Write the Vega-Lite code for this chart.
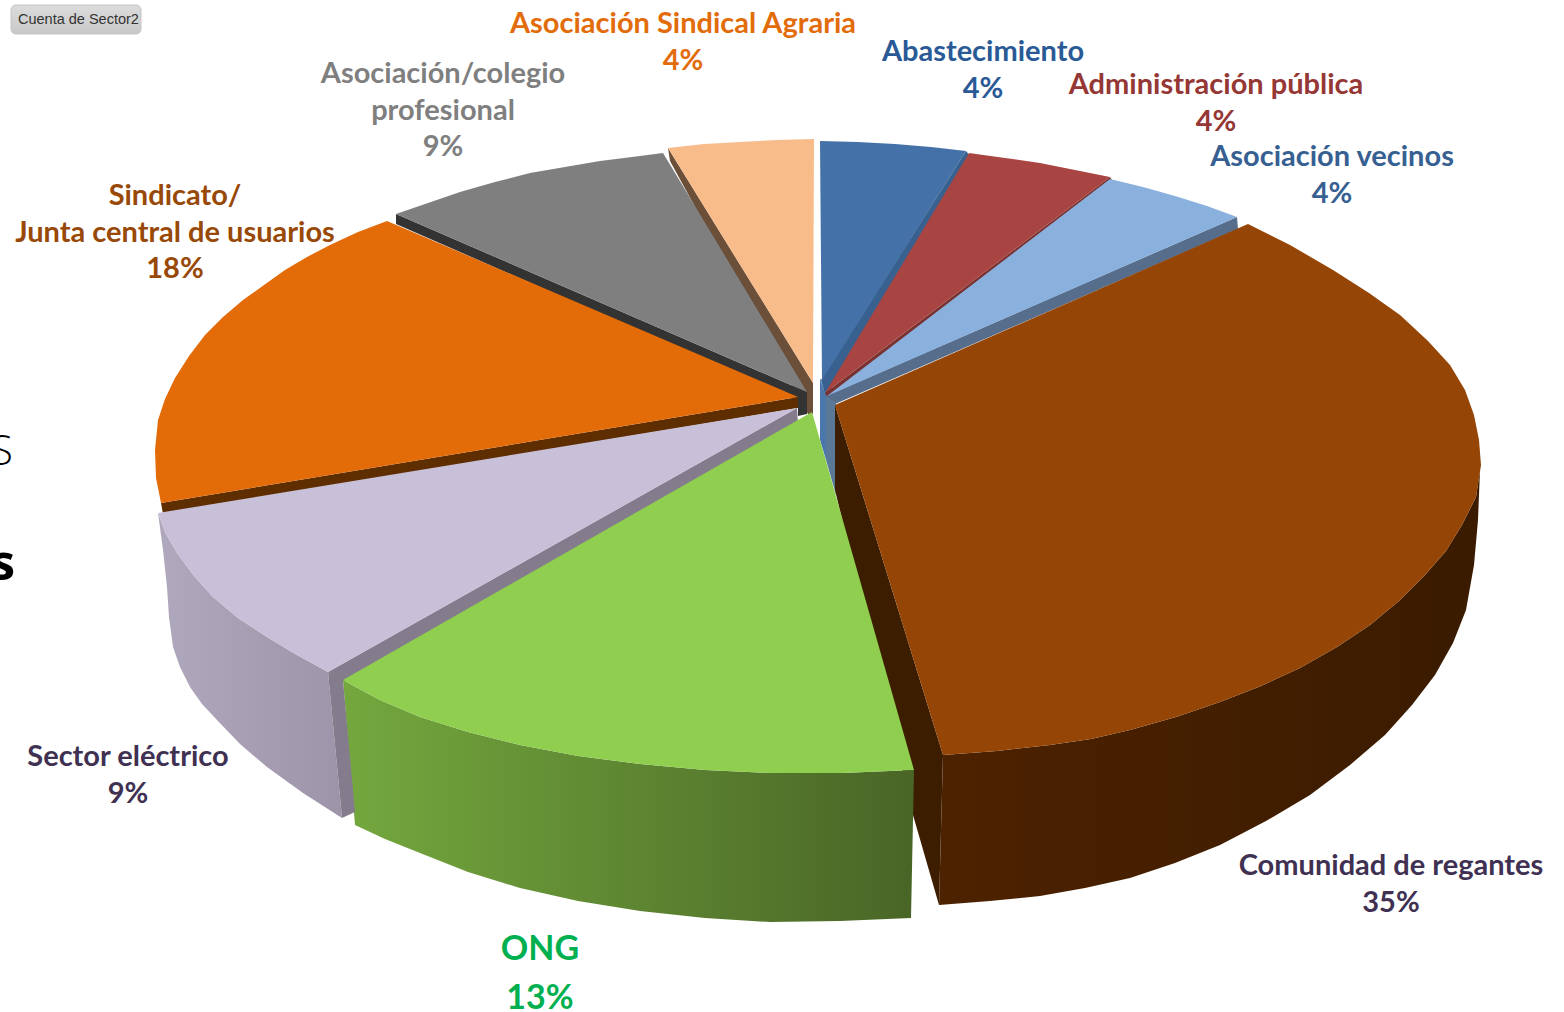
{"$schema":"https://vega.github.io/schema/vega-lite/v6.json","width":1564,"height":1012,"padding":0,"autosize":"none","background":"white","view":{"stroke":null},
"datasets":{"faces":[
{"z":"back","face":"wall_abast","i":0,"x":966,"y":151},{"z":"back","face":"wall_abast","i":1,"x":970,"y":156},{"z":"back","face":"wall_abast","i":2,"x":826,"y":398},{"z":"back","face":"wall_abast","i":3,"x":821,"y":380},
{"z":"back","face":"wall_red","i":0,"x":1110,"y":177},{"z":"back","face":"wall_red","i":1,"x":1112,"y":180},{"z":"back","face":"wall_red","i":2,"x":827,"y":398},{"z":"back","face":"wall_red","i":3,"x":825,"y":393},
{"z":"back","face":"wall_vec","i":0,"x":1237,"y":217},{"z":"back","face":"wall_vec","i":1,"x":1238,"y":229},{"z":"back","face":"wall_vec","i":2,"x":835,"y":404},{"z":"back","face":"wall_vec","i":3,"x":826,"y":396},
{"z":"back","face":"band_vec","i":0,"x":826,"y":396},{"z":"back","face":"band_vec","i":1,"x":836,"y":403},{"z":"back","face":"band_vec","i":2,"x":836,"y":495},{"z":"back","face":"band_vec","i":3,"x":826,"y":460},
{"z":"back","face":"band_abast","i":0,"x":820,"y":378},{"z":"back","face":"band_abast","i":1,"x":826,"y":396},{"z":"back","face":"band_abast","i":2,"x":826,"y":460},{"z":"back","face":"band_abast","i":3,"x":820,"y":440},
{"z":"back","face":"wall_peach","i":0,"x":668,"y":148},{"z":"back","face":"wall_peach","i":1,"x":670,"y":161},{"z":"back","face":"wall_peach","i":2,"x":808,"y":414},{"z":"back","face":"wall_peach","i":3,"x":813,"y":414},{"z":"back","face":"wall_peach","i":4,"x":813,"y":383},
{"z":"back","face":"wall_grey","i":0,"x":396,"y":214},{"z":"back","face":"wall_grey","i":1,"x":396,"y":224},{"z":"back","face":"wall_grey","i":2,"x":798,"y":400},{"z":"back","face":"wall_grey","i":3,"x":798,"y":416},{"z":"back","face":"wall_grey","i":4,"x":807,"y":414},{"z":"back","face":"wall_grey","i":5,"x":807,"y":392},
{"z":"back","face":"wall_orange","i":0,"x":161,"y":503},{"z":"back","face":"wall_orange","i":1,"x":798,"y":397},{"z":"back","face":"wall_orange","i":2,"x":798,"y":408},{"z":"back","face":"wall_orange","i":3,"x":163,"y":514},
{"z":"back","face":"wall_lilac","i":0,"x":328,"y":672},{"z":"back","face":"wall_lilac","i":1,"x":797,"y":408},{"z":"back","face":"wall_lilac","i":2,"x":798,"y":424},{"z":"back","face":"wall_lilac","i":3,"x":343,"y":682},
{"z":"back","face":"wall_brown","i":0,"x":835,"y":405},{"z":"back","face":"wall_brown","i":1,"x":943,"y":755},{"z":"back","face":"wall_brown","i":2,"x":939,"y":905},{"z":"back","face":"wall_brown","i":3,"x":913,"y":815},{"z":"back","face":"wall_brown","i":4,"x":835,"y":490},

{"z":"side","face":"side_brown","i":0,"x":943,"y":755},{"z":"side","face":"side_brown","i":1,"x":997,"y":751},{"z":"side","face":"side_brown","i":2,"x":1050,"y":745},{"z":"side","face":"side_brown","i":3,"x":1091,"y":739},{"z":"side","face":"side_brown","i":4,"x":1130,"y":730},{"z":"side","face":"side_brown","i":5,"x":1176,"y":717},{"z":"side","face":"side_brown","i":6,"x":1220,"y":702},{"z":"side","face":"side_brown","i":7,"x":1261,"y":686},{"z":"side","face":"side_brown","i":8,"x":1300,"y":668},{"z":"side","face":"side_brown","i":9,"x":1337,"y":647},{"z":"side","face":"side_brown","i":10,"x":1370,"y":625},{"z":"side","face":"side_brown","i":11,"x":1399,"y":601},{"z":"side","face":"side_brown","i":12,"x":1425,"y":575},{"z":"side","face":"side_brown","i":13,"x":1446,"y":551},{"z":"side","face":"side_brown","i":14,"x":1462,"y":525},{"z":"side","face":"side_brown","i":15,"x":1476,"y":497},{"z":"side","face":"side_brown","i":16,"x":1480,"y":470},{"z":"side","face":"side_brown","i":17,"x":1478,"y":520},{"z":"side","face":"side_brown","i":18,"x":1474,"y":565},{"z":"side","face":"side_brown","i":19,"x":1466,"y":610},{"z":"side","face":"side_brown","i":20,"x":1453,"y":643},{"z":"side","face":"side_brown","i":21,"x":1435,"y":675},{"z":"side","face":"side_brown","i":22,"x":1412,"y":705},{"z":"side","face":"side_brown","i":23,"x":1385,"y":735},{"z":"side","face":"side_brown","i":24,"x":1350,"y":765},{"z":"side","face":"side_brown","i":25,"x":1310,"y":795},{"z":"side","face":"side_brown","i":26,"x":1266,"y":821},{"z":"side","face":"side_brown","i":27,"x":1220,"y":845},{"z":"side","face":"side_brown","i":28,"x":1175,"y":863},{"z":"side","face":"side_brown","i":29,"x":1130,"y":878},{"z":"side","face":"side_brown","i":30,"x":1085,"y":888},{"z":"side","face":"side_brown","i":31,"x":1040,"y":896},{"z":"side","face":"side_brown","i":32,"x":990,"y":901},{"z":"side","face":"side_brown","i":33,"x":939,"y":905},

{"z":"side","face":"side_lilac","i":0,"x":158,"y":513},{"z":"side","face":"side_lilac","i":1,"x":166,"y":534},{"z":"side","face":"side_lilac","i":2,"x":177,"y":553},{"z":"side","face":"side_lilac","i":3,"x":194,"y":576},{"z":"side","face":"side_lilac","i":4,"x":213,"y":597},{"z":"side","face":"side_lilac","i":5,"x":238,"y":618},{"z":"side","face":"side_lilac","i":6,"x":267,"y":637},{"z":"side","face":"side_lilac","i":7,"x":297,"y":655},{"z":"side","face":"side_lilac","i":8,"x":328,"y":672},{"z":"side","face":"side_lilac","i":9,"x":342,"y":818},{"z":"side","face":"side_lilac","i":10,"x":303,"y":793},{"z":"side","face":"side_lilac","i":11,"x":267,"y":767},{"z":"side","face":"side_lilac","i":12,"x":240,"y":744},{"z":"side","face":"side_lilac","i":13,"x":217,"y":720},{"z":"side","face":"side_lilac","i":14,"x":202,"y":704},{"z":"side","face":"side_lilac","i":15,"x":190,"y":687},{"z":"side","face":"side_lilac","i":16,"x":180,"y":667},{"z":"side","face":"side_lilac","i":17,"x":173,"y":647},{"z":"side","face":"side_lilac","i":18,"x":169,"y":617},{"z":"side","face":"side_lilac","i":19,"x":167,"y":587},{"z":"side","face":"side_lilac","i":20,"x":163,"y":550},

{"z":"side","face":"side_green","i":0,"x":343,"y":680},{"z":"side","face":"side_green","i":1,"x":380,"y":700},{"z":"side","face":"side_green","i":2,"x":420,"y":717},{"z":"side","face":"side_green","i":3,"x":468,"y":732},{"z":"side","face":"side_green","i":4,"x":520,"y":745},{"z":"side","face":"side_green","i":5,"x":578,"y":756},{"z":"side","face":"side_green","i":6,"x":640,"y":764},{"z":"side","face":"side_green","i":7,"x":705,"y":770},{"z":"side","face":"side_green","i":8,"x":770,"y":773},{"z":"side","face":"side_green","i":9,"x":842,"y":773},{"z":"side","face":"side_green","i":10,"x":914,"y":770},{"z":"side","face":"side_green","i":11,"x":911,"y":918},{"z":"side","face":"side_green","i":12,"x":840,"y":921},{"z":"side","face":"side_green","i":13,"x":770,"y":922},{"z":"side","face":"side_green","i":14,"x":705,"y":918},{"z":"side","face":"side_green","i":15,"x":640,"y":911},{"z":"side","face":"side_green","i":16,"x":578,"y":901},{"z":"side","face":"side_green","i":17,"x":520,"y":888},{"z":"side","face":"side_green","i":18,"x":468,"y":872},{"z":"side","face":"side_green","i":19,"x":420,"y":853},{"z":"side","face":"side_green","i":20,"x":385,"y":839},{"z":"side","face":"side_green","i":21,"x":355,"y":825},

{"z":"top","face":"front_lilac","i":0,"x":328,"y":672},{"z":"top","face":"front_lilac","i":1,"x":343,"y":680},{"z":"top","face":"front_lilac","i":2,"x":355,"y":812},{"z":"top","face":"front_lilac","i":3,"x":342,"y":818},

{"z":"top","face":"top_abast","i":0,"x":820,"y":141},{"z":"top","face":"top_abast","i":1,"x":858,"y":142},{"z":"top","face":"top_abast","i":2,"x":895,"y":144},{"z":"top","face":"top_abast","i":3,"x":931,"y":147},{"z":"top","face":"top_abast","i":4,"x":966,"y":151},{"z":"top","face":"top_abast","i":5,"x":822,"y":380},

{"z":"top","face":"top_red","i":0,"x":969,"y":153},{"z":"top","face":"top_red","i":1,"x":1005,"y":158},{"z":"top","face":"top_red","i":2,"x":1040,"y":163},{"z":"top","face":"top_red","i":3,"x":1075,"y":170},{"z":"top","face":"top_red","i":4,"x":1110,"y":177},{"z":"top","face":"top_red","i":5,"x":825,"y":393},

{"z":"top","face":"top_vec","i":0,"x":1110,"y":179},{"z":"top","face":"top_vec","i":1,"x":1143,"y":187},{"z":"top","face":"top_vec","i":2,"x":1175,"y":196},{"z":"top","face":"top_vec","i":3,"x":1207,"y":206},{"z":"top","face":"top_vec","i":4,"x":1237,"y":217},{"z":"top","face":"top_vec","i":5,"x":827,"y":396},

{"z":"top","face":"top_peach","i":0,"x":668,"y":148},{"z":"top","face":"top_peach","i":1,"x":704,"y":144},{"z":"top","face":"top_peach","i":2,"x":740,"y":142},{"z":"top","face":"top_peach","i":3,"x":777,"y":140},{"z":"top","face":"top_peach","i":4,"x":814,"y":139},{"z":"top","face":"top_peach","i":5,"x":813,"y":383},

{"z":"top","face":"top_grey","i":0,"x":396,"y":214},{"z":"top","face":"top_grey","i":1,"x":428,"y":203},{"z":"top","face":"top_grey","i":2,"x":460,"y":192},{"z":"top","face":"top_grey","i":3,"x":495,"y":182},{"z":"top","face":"top_grey","i":4,"x":530,"y":173},{"z":"top","face":"top_grey","i":5,"x":565,"y":167},{"z":"top","face":"top_grey","i":6,"x":600,"y":161},{"z":"top","face":"top_grey","i":7,"x":632,"y":157},{"z":"top","face":"top_grey","i":8,"x":663,"y":153},{"z":"top","face":"top_grey","i":9,"x":807,"y":392},

{"z":"top","face":"top_orange","i":0,"x":387,"y":221},{"z":"top","face":"top_orange","i":1,"x":358,"y":232},{"z":"top","face":"top_orange","i":2,"x":330,"y":245},{"z":"top","face":"top_orange","i":3,"x":307,"y":257},{"z":"top","face":"top_orange","i":4,"x":285,"y":270},{"z":"top","face":"top_orange","i":5,"x":264,"y":285},{"z":"top","face":"top_orange","i":6,"x":243,"y":300},{"z":"top","face":"top_orange","i":7,"x":223,"y":317},{"z":"top","face":"top_orange","i":8,"x":205,"y":335},{"z":"top","face":"top_orange","i":9,"x":189,"y":356},{"z":"top","face":"top_orange","i":10,"x":175,"y":378},{"z":"top","face":"top_orange","i":11,"x":165,"y":399},{"z":"top","face":"top_orange","i":12,"x":158,"y":420},{"z":"top","face":"top_orange","i":13,"x":155,"y":450},{"z":"top","face":"top_orange","i":14,"x":156,"y":478},{"z":"top","face":"top_orange","i":15,"x":161,"y":503},{"z":"top","face":"top_orange","i":16,"x":798,"y":397},

{"z":"top","face":"top_lilac","i":0,"x":158,"y":513},{"z":"top","face":"top_lilac","i":1,"x":166,"y":534},{"z":"top","face":"top_lilac","i":2,"x":177,"y":553},{"z":"top","face":"top_lilac","i":3,"x":194,"y":576},{"z":"top","face":"top_lilac","i":4,"x":213,"y":597},{"z":"top","face":"top_lilac","i":5,"x":238,"y":618},{"z":"top","face":"top_lilac","i":6,"x":267,"y":637},{"z":"top","face":"top_lilac","i":7,"x":297,"y":655},{"z":"top","face":"top_lilac","i":8,"x":328,"y":672},{"z":"top","face":"top_lilac","i":9,"x":797,"y":408},

{"z":"top","face":"top_green","i":0,"x":812,"y":412},{"z":"top","face":"top_green","i":1,"x":343,"y":680},{"z":"top","face":"top_green","i":2,"x":380,"y":700},{"z":"top","face":"top_green","i":3,"x":420,"y":717},{"z":"top","face":"top_green","i":4,"x":468,"y":732},{"z":"top","face":"top_green","i":5,"x":520,"y":745},{"z":"top","face":"top_green","i":6,"x":578,"y":756},{"z":"top","face":"top_green","i":7,"x":640,"y":764},{"z":"top","face":"top_green","i":8,"x":705,"y":770},{"z":"top","face":"top_green","i":9,"x":770,"y":773},{"z":"top","face":"top_green","i":10,"x":842,"y":773},{"z":"top","face":"top_green","i":11,"x":914,"y":770},

{"z":"top","face":"top_brown","i":0,"x":835,"y":405},{"z":"top","face":"top_brown","i":1,"x":1248,"y":224},{"z":"top","face":"top_brown","i":2,"x":1290,"y":245},{"z":"top","face":"top_brown","i":3,"x":1333,"y":270},{"z":"top","face":"top_brown","i":4,"x":1369,"y":293},{"z":"top","face":"top_brown","i":5,"x":1400,"y":315},{"z":"top","face":"top_brown","i":6,"x":1428,"y":341},{"z":"top","face":"top_brown","i":7,"x":1450,"y":365},{"z":"top","face":"top_brown","i":8,"x":1465,"y":390},{"z":"top","face":"top_brown","i":9,"x":1474,"y":415},{"z":"top","face":"top_brown","i":10,"x":1479,"y":440},{"z":"top","face":"top_brown","i":11,"x":1481,"y":465},{"z":"top","face":"top_brown","i":12,"x":1476,"y":497},{"z":"top","face":"top_brown","i":13,"x":1462,"y":525},{"z":"top","face":"top_brown","i":14,"x":1446,"y":551},{"z":"top","face":"top_brown","i":15,"x":1425,"y":575},{"z":"top","face":"top_brown","i":16,"x":1399,"y":601},{"z":"top","face":"top_brown","i":17,"x":1370,"y":625},{"z":"top","face":"top_brown","i":18,"x":1337,"y":647},{"z":"top","face":"top_brown","i":19,"x":1300,"y":668},{"z":"top","face":"top_brown","i":20,"x":1261,"y":686},{"z":"top","face":"top_brown","i":21,"x":1220,"y":702},{"z":"top","face":"top_brown","i":22,"x":1176,"y":717},{"z":"top","face":"top_brown","i":23,"x":1130,"y":730},{"z":"top","face":"top_brown","i":24,"x":1091,"y":739},{"z":"top","face":"top_brown","i":25,"x":1050,"y":745},{"z":"top","face":"top_brown","i":26,"x":997,"y":751},{"z":"top","face":"top_brown","i":27,"x":943,"y":755}
],
"labels":[
{"sector":"Asociación Sindical Agraria","text":"Asociación Sindical Agraria\n4%","x":683,"y":24},
{"sector":"Abastecimiento","text":"Abastecimiento\n4%","x":983,"y":52},
{"sector":"Administración pública","text":"Administración pública\n4%","x":1216,"y":85},
{"sector":"Asociación vecinos","text":"Asociación vecinos\n4%","x":1332,"y":157},
{"sector":"Asociación/colegio profesional","text":"Asociación/colegio\nprofesional\n9%","x":443,"y":74},
{"sector":"Sindicato","text":"Sindicato/\nJunta central de usuarios\n18%","x":175,"y":196},
{"sector":"Sector eléctrico","text":"Sector eléctrico\n9%","x":128,"y":757},
{"sector":"Comunidad de regantes","text":"Comunidad de regantes\n35%","x":1391,"y":866}
]},
"encoding":{"x":{"field":"x","type":"quantitative","scale":{"domain":[0,1564]},"axis":null},"y":{"field":"y","type":"quantitative","scale":{"domain":[1012,0]},"axis":null}},
"layer":[
{"data":{"name":"faces"},"transform":[{"filter":"datum.z==='back'"}],"mark":{"type":"line","filled":true,"strokeWidth":0},
"encoding":{"order":{"field":"i"},
"fill":{"field":"face","type":"nominal","legend":null,"sort":null,"scale":{"domain":["wall_abast","wall_red","wall_vec","band_vec","band_abast","wall_peach","wall_grey","wall_orange","wall_lilac","wall_brown","front_lilac","top_abast","top_red","top_vec","top_peach","top_grey","top_orange","top_lilac","top_green","top_brown"],"range":["#38618f","#7a3231","#566e8c","#5a7898","#4a78ad","#6b4f39","#333333","#5f2e00","#847c8c","#3d1d00","#847c8c","#4472a8","#a84442","#8ab0de","#f8bc8b","#7f7f7f","#e36c09","#c8bfd8","#8fce4e","#954505"]}}}},
{"data":{"name":"faces"},"transform":[{"filter":"datum.face==='side_brown'"}],"mark":{"type":"line","filled":true,"strokeWidth":0,"fill":{"gradient":"linear","x1":0,"x2":1,"y1":0,"y2":0,"stops":[{"offset":0,"color":"#4d2200"},{"offset":1,"color":"#3a1b00"}]}},
"encoding":{"order":{"field":"i"}}},
{"data":{"name":"faces"},"transform":[{"filter":"datum.face==='side_lilac'"}],"mark":{"type":"line","filled":true,"strokeWidth":0,"fill":{"gradient":"linear","x1":0,"x2":1,"y1":0,"y2":0,"stops":[{"offset":0,"color":"#b0a8bc"},{"offset":1,"color":"#9e94a9"}]}},
"encoding":{"order":{"field":"i"}}},
{"data":{"name":"faces"},"transform":[{"filter":"datum.face==='side_green'"}],"mark":{"type":"line","filled":true,"strokeWidth":0,"fill":{"gradient":"linear","x1":0,"x2":1,"y1":0,"y2":0,"stops":[{"offset":0,"color":"#74a83e"},{"offset":1,"color":"#496526"}]}},
"encoding":{"order":{"field":"i"}}},
{"data":{"name":"faces"},"transform":[{"filter":"datum.z==='top'"}],"mark":{"type":"line","filled":true,"strokeWidth":0},
"encoding":{"order":{"field":"i"},
"fill":{"field":"face","type":"nominal","legend":null,"sort":null,"scale":{"domain":["wall_abast","wall_red","wall_vec","band_vec","band_abast","wall_peach","wall_grey","wall_orange","wall_lilac","wall_brown","front_lilac","top_abast","top_red","top_vec","top_peach","top_grey","top_orange","top_lilac","top_green","top_brown"],"range":["#38618f","#7a3231","#566e8c","#5a7898","#4a78ad","#6b4f39","#333333","#5f2e00","#847c8c","#3d1d00","#847c8c","#4472a8","#a84442","#8ab0de","#f8bc8b","#7f7f7f","#e36c09","#c8bfd8","#8fce4e","#954505"]}}}},
{"data":{"name":"labels"},"mark":{"type":"text","font":"Lato","fontWeight":"bold","fontSize":29,"lineHeight":36.5,"lineBreak":"\n","align":"center","baseline":"middle"},
"encoding":{"text":{"field":"text"},
"color":{"field":"sector","type":"nominal","legend":null,"scale":{"domain":["Asociación Sindical Agraria","Abastecimiento","Administración pública","Asociación vecinos","Asociación/colegio profesional","Sindicato","Sector eléctrico","Comunidad de regantes"],"range":["#e36c0a","#2a5a96","#953735","#376092","#7f7f7f","#984807","#403152","#403152"]}}}},
{"data":{"values":[{"text":"ONG\n13%","x":540,"y":950}]},"mark":{"type":"text","font":"Lato","fontWeight":"bold","fontSize":34,"lineHeight":49,"lineBreak":"\n","align":"center","baseline":"middle","color":"#00b050"},
"encoding":{"text":{"field":"text"}}},
{"data":{"values":[{"text":"S","x":13,"y":452}]},"mark":{"type":"text","font":"Open Sans","fontSize":42,"fontWeight":300,"align":"right","baseline":"middle","color":"#000000"},
"encoding":{"text":{"field":"text"}}},
{"data":{"values":[{"text":"s","x":15,"y":565}]},"mark":{"type":"text","font":"Open Sans","fontSize":50,"fontWeight":"bold","align":"right","baseline":"middle","color":"#000000"},
"encoding":{"text":{"field":"text"}}},
{"data":{"values":[{"x":11,"x2":141,"y":5,"y2":34}]},"mark":{"type":"rect","cornerRadius":5,"stroke":"#c4c4c4","strokeWidth":1,"fill":{"gradient":"linear","x1":0,"x2":0,"y1":0,"y2":1,"stops":[{"offset":0,"color":"#dcdcdc"},{"offset":1,"color":"#c8c8c8"}]}},
"encoding":{"x2":{"field":"x2"},"y2":{"field":"y2"}}},
{"data":{"values":[{"text":"Cuenta de Sector2","x":18,"y":20}]},"mark":{"type":"text","font":"Liberation Sans","fontSize":14.5,"align":"left","baseline":"middle","color":"#333333"},
"encoding":{"text":{"field":"text"}}}
]}
